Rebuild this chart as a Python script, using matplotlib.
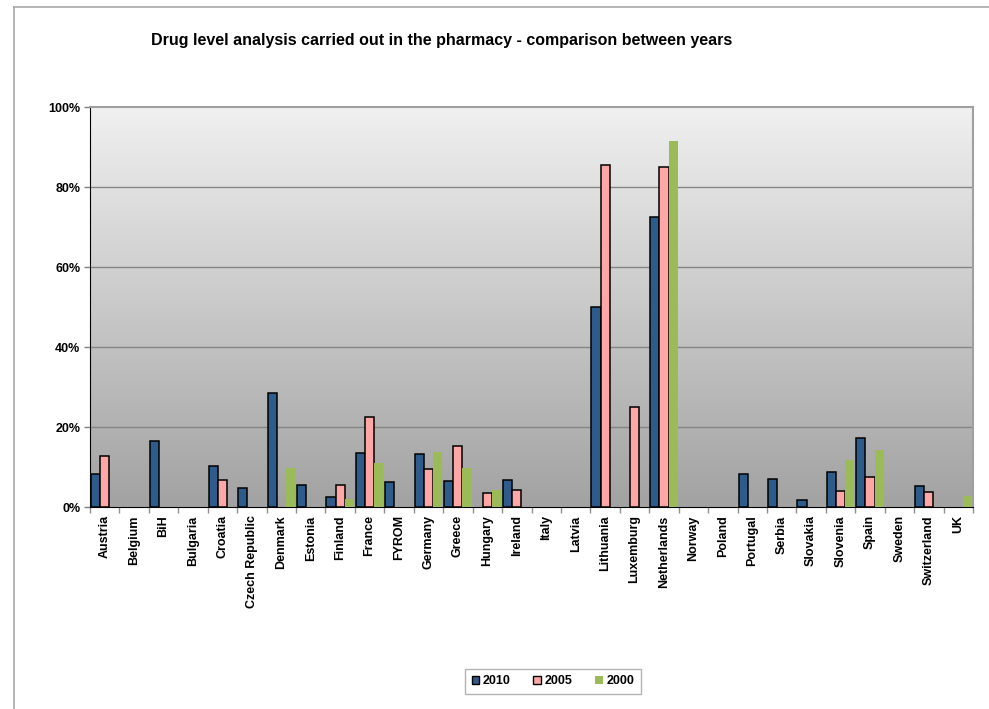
import matplotlib.pyplot as plt
import numpy as np
from matplotlib.lines import Line2D
from matplotlib.patches import Patch
from matplotlib.colors import LinearSegmentedColormap

plt.rcParams['font.family'] = ['Liberation Sans', 'DejaVu Sans']

countries = ['Austria', 'Belgium', 'BiH', 'Bulgaria', 'Croatia', 'Czech Republic',
             'Denmark', 'Estonia', 'Finland', 'France', 'FYROM', 'Germany', 'Greece',
             'Hungary', 'Ireland', 'Italy', 'Latvia', 'Lithuania', 'Luxemburg',
             'Netherlands', 'Norway', 'Poland', 'Portugal', 'Serbia', 'Slovakia',
             'Slovenia', 'Spain', 'Sweden', 'Switzerland', 'UK']

# percentages (0 = no bar)
y2010 = [8.3, 0, 16.6, 0, 10.2, 4.8, 28.5, 5.4, 2.4, 13.6, 6.2, 13.3, 6.4,
         0, 6.8, 0, 0, 50.0, 0, 72.6, 0, 0, 8.3, 6.9, 1.8, 8.7, 17.2, 0, 5.3, 0]
y2005 = [12.8, 0, 0, 0, 6.7, 0, 0, 0, 5.6, 22.5, 0, 9.4, 15.3,
         3.6, 4.3, 0, 0, 85.5, 25.0, 85.1, 0, 0, 0, 0, 0, 4.0, 7.5, 0, 3.8, 0]
y2000 = [0, 0, 0, 0, 0, 0, 9.8, 0, 2.1, 11.0, 0, 13.8, 9.8,
         4.3, 0, 0, 0, 0, 0, 91.4, 0, 0, 0, 0, 0, 11.8, 14.2, 0, 0, 2.8]

c2010 = '#2E5C8A'
c2005 = '#FFA6A6'
c2000 = '#9BBB59'

fig = plt.figure(figsize=(9.89, 7.09), dpi=100)
ax = fig.add_axes([90 / 989, 1 - 507 / 709, 883 / 989, 400 / 709])

x = np.arange(len(countries))
w = 0.31

# gradient background
grad = np.linspace(0, 1, 256).reshape(-1, 1)
ax.imshow(grad, cmap=LinearSegmentedColormap.from_list('bg', ['#A2A2A2', '#F0F0F0']),
          origin='lower', aspect='auto',
          extent=[-0.5, len(countries) - 0.5, 0, 100], zorder=0)

for v in [20, 40, 60, 80]:
    ax.axhline(v, color='#858585', lw=1, zorder=1)


def draw(vals, off, color, edge):
    vals = np.array(vals)
    keep = vals > 0
    ax.bar(x[keep] + off, vals[keep], w, color=color, edgecolor=edge,
           linewidth=1.1 if edge != 'none' else 0, zorder=3)


draw(y2010, -w, c2010, 'black')
draw(y2005, 0, c2005, 'black')
draw(y2000, w, c2000, 'none')

ax.set_xlim(-0.5, len(countries) - 0.5)
ax.set_ylim(0, 100)
ax.set_yticks([0, 20, 40, 60, 80, 100])
ax.set_yticklabels(['0%', '20%', '40%', '60%', '80%', '100%'],
                   fontsize=9, fontweight='bold')
ax.tick_params(axis='y', length=4, width=1, color='#808080', pad=3)

ax.set_xticks(x)
ax.set_xticklabels(countries, rotation=90, fontsize=9, fontweight='bold')
ax.tick_params(axis='x', which='major', length=0, pad=6)
ax.set_xticks(np.arange(-0.5, len(countries), 1), minor=True)
ax.tick_params(axis='x', which='minor', length=4, width=1, color='#909090')

ax.spines['left'].set_color('black')
ax.spines['bottom'].set_color('black')
ax.spines['top'].set_color('#a0a0a0')
ax.spines['right'].set_color('#a0a0a0')
ax.spines['top'].set_linewidth(1.5)
ax.spines['right'].set_linewidth(1.5)

fig.text(442 / 989, 1 - 41 / 709,
         'Drug level analysis carried out in the pharmacy - comparison between years',
         ha='center', va='center', fontsize=11.5, fontweight='bold')

# outer chart border (top and left)
fig.add_artist(Line2D([14 / 989, 1], [1 - 7 / 709, 1 - 7 / 709], color='#a8a8a8', lw=1.2))
fig.add_artist(Line2D([14 / 989, 14 / 989], [0, 1 - 7 / 709], color='#a8a8a8', lw=1.2))

handles = [Patch(facecolor=c2010, edgecolor='black', lw=1),
           Patch(facecolor=c2005, edgecolor='black', lw=1),
           Patch(facecolor=c2000, edgecolor='none')]
leg = fig.legend(handles, ['2010', '2005', '2000'], loc='center',
                 bbox_to_anchor=(553 / 989, 1 - 681.5 / 709), ncol=3,
                 prop={'size': 9, 'weight': 'bold'}, frameon=True, fancybox=False,
                 handlelength=0.6, handleheight=0.6, handletextpad=0.3,
                 columnspacing=1.8, borderpad=0.55, borderaxespad=0)
leg.get_frame().set_edgecolor('#a0a0a0')
leg.get_frame().set_linewidth(1)

fig.savefig('out.png', dpi=100)
